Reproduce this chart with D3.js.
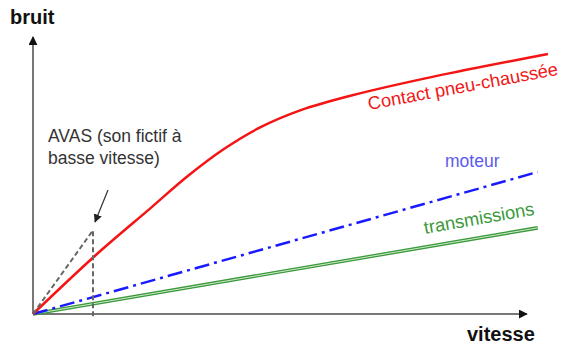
<!DOCTYPE html>
<html>
<head>
<meta charset="utf-8">
<script src="https://cdn.jsdelivr.net/npm/d3@7"></script>
<style>
  body { margin: 0; background: #fff; }
  svg { font-family: "Liberation Sans", Arial, sans-serif; }
</style>
</head>
<body>
<svg id="graph" width="564" height="348"></svg>
<script>
// speed / noise in arbitrary units (0..100)
const contact_speed = [0, 12, 23, 30, 37, 44, 52, 62, 78, 100]
const contact_noise = [0, 21.5, 39.5, 51, 61, 69, 75.5, 81, 88, 96.3]

const moteur_speed = [0, 98]
const moteur_noise = [0, 52.6]

const trans_speed = [0, 98]
const trans_noise = [0, 31.9]

const avas_speed = [0, 11.65, 11.65]
const avas_noise = [0, 31, -1.5]

const axis_x_max = 95.9
const axis_y_max = 102.6

const svg = d3.select("#graph")

const x = d3.scaleLinear().domain([0, 100]).range([33, 548])
const y = d3.scaleLinear().domain([0, 100]).range([314, 44])

const pts = (xs, ys) => xs.map((v, i) => [v, ys[i]])

const line = d3.line().x(d => x(d[0])).y(d => y(d[1]))
const curve = d3.line().x(d => x(d[0])).y(d => y(d[1])).curve(d3.curveCatmullRom.alpha(0.5))

const defs = svg.append("defs")
defs.append("marker")
  .attr("id", "arrow")
  .attr("viewBox", "0 0 10 10")
  .attr("refX", 9).attr("refY", 5)
  .attr("markerWidth", 4.5).attr("markerHeight", 4.5)
  .attr("markerUnits", "strokeWidth")
  .attr("orient", "auto")
  .append("path").attr("d", "M0,0L10,5L0,10z").attr("fill", "#111")

defs.append("marker")
  .attr("id", "arrow_small")
  .attr("viewBox", "0 0 10 10")
  .attr("refX", 9).attr("refY", 5)
  .attr("markerWidth", 7).attr("markerHeight", 7)
  .attr("markerUnits", "strokeWidth")
  .attr("orient", "auto")
  .append("path").attr("d", "M0,0L10,5L0,10z").attr("fill", "#222")

// axes
svg.append("line")
  .attr("x1", x(0)).attr("y1", y(0))
  .attr("x2", x(0)).attr("y2", y(axis_y_max))
  .attr("stroke", "#777").attr("stroke-width", 2)
  .attr("marker-end", "url(#arrow)")

svg.append("line")
  .attr("x1", x(0)).attr("y1", y(0))
  .attr("x2", x(axis_x_max)).attr("y2", y(0))
  .attr("stroke", "#777").attr("stroke-width", 2)
  .attr("marker-end", "url(#arrow)")

svg.append("text").attr("x", 10).attr("y", 24)
  .attr("font-size", 20).attr("font-weight", "bold").attr("fill", "#111")
  .text("bruit")

svg.append("text").attr("x", 467).attr("y", 341)
  .attr("font-size", 20).attr("font-weight", "bold").attr("fill", "#111")
  .text("vitesse")

// transmissions (double line)
svg.append("path").datum(pts(trans_speed, trans_noise))
  .attr("d", line).attr("fill", "none")
  .attr("stroke", "#3a9a3a").attr("stroke-width", 3.6)
svg.append("path").datum(pts(trans_speed, trans_noise))
  .attr("d", line).attr("fill", "none")
  .attr("stroke", "#cfe8cf").attr("stroke-width", 1)

// moteur
svg.append("path").datum(pts(moteur_speed, moteur_noise))
  .attr("d", line).attr("fill", "none")
  .attr("stroke", "#1a1aff").attr("stroke-width", 2.5)
  .attr("stroke-dasharray", "15,5,3,5")

// contact pneu-chaussée
svg.append("path").datum(pts(contact_speed, contact_noise))
  .attr("d", curve).attr("fill", "none")
  .attr("stroke", "#f51414").attr("stroke-width", 2.5)

// AVAS
svg.append("path").datum(pts(avas_speed, avas_noise))
  .attr("d", line).attr("fill", "none")
  .attr("stroke", "#666").attr("stroke-width", 2)
  .attr("stroke-dasharray", "5,3")

svg.append("line")
  .attr("x1", 108).attr("y1", 190)
  .attr("x2", 95).attr("y2", 222)
  .attr("stroke", "#333").attr("stroke-width", 1.2)
  .attr("marker-end", "url(#arrow_small)")

const avas = svg.append("text").attr("font-size", 17.5).attr("fill", "#333")
avas.append("tspan").attr("x", 48).attr("y", 142).text("AVAS (son fictif à")
avas.append("tspan").attr("x", 48).attr("y", 164).text("basse vitesse)")

// labels
svg.append("text")
  .attr("transform", "translate(369,110) rotate(-10.5)")
  .attr("font-size", 18.3).attr("fill", "#f01818")
  .text("Contact pneu-chaussée")

svg.append("text").attr("x", 445).attr("y", 167)
  .attr("font-size", 17.5).attr("fill", "#5a5aee")
  .text("moteur")

svg.append("text")
  .attr("transform", "translate(425,234) rotate(-10)")
  .attr("font-size", 18.3).attr("fill", "#3a9a3a")
  .text("transmissions")
</script>
</body>
</html>
